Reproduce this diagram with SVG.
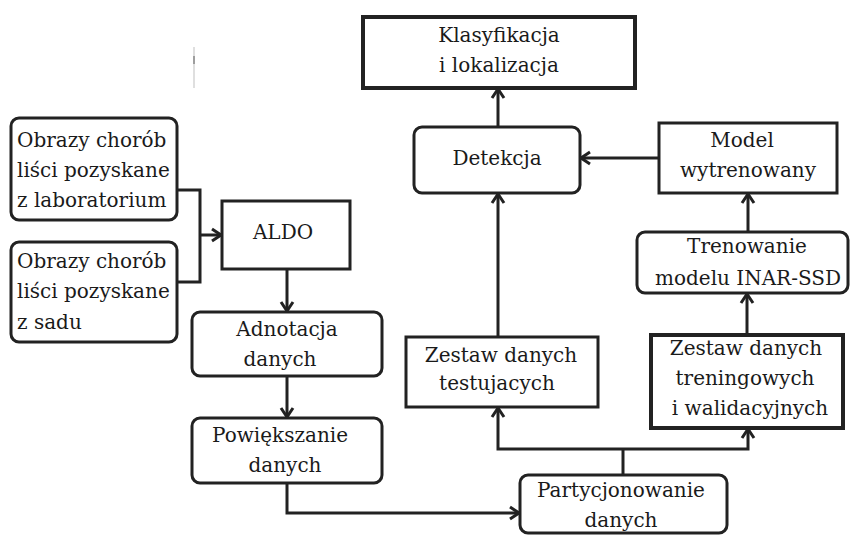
<svg xmlns="http://www.w3.org/2000/svg" width="852" height="536" viewBox="0 0 852 536">
  <defs>
    <marker id="arrow" markerUnits="userSpaceOnUse" markerWidth="14" markerHeight="16" viewBox="-12 -8 14 16" refX="0" refY="0" orient="auto">
      <path d="M-9,-6 L0,0 L-9,6" fill="none" stroke="#222" stroke-width="3" stroke-linejoin="miter"/>
    </marker>
  </defs>
  <style>
    .box { fill: #fff; stroke: #222; stroke-width: 3; }
    .thick { stroke-width: 4; }
    .lbl { font-family: "DejaVu Serif", "Liberation Serif", serif; font-size: 20px; fill: #1a1a1a; text-anchor: middle; }
    .left { text-anchor: start; }
    .conn { fill: none; stroke: #222; stroke-width: 3; }
    .arr { marker-end: url(#arrow); }
  </style>
  <rect width="852" height="536" fill="#fff"/>

  <!-- faint scan mark -->
  <line x1="194" y1="47" x2="194" y2="88" stroke="#d4d4d4" stroke-width="1.5"/>
  <line x1="194" y1="56" x2="194" y2="64" stroke="#888" stroke-width="1.5"/>

  <g id="connectors">
    <!-- sources merge into ALDO -->
    <polyline class="conn" points="177,190 200,190 200,282 177,282"/>
    <line class="conn arr" x1="200" y1="235" x2="221" y2="235"/>
    <!-- ALDO -> Adnotacja -> Powiekszanie -->
    <line class="conn arr" x1="287" y1="269" x2="287" y2="311"/>
    <line class="conn arr" x1="287" y1="376" x2="287" y2="417"/>
    <!-- Powiekszanie -> Partycjonowanie -->
    <polyline class="conn arr" points="287,483 287,513 519,513"/>
    <!-- Partycjonowanie split -->
    <line class="conn" x1="623" y1="475" x2="623" y2="449"/>
    <polyline class="conn arr" points="623,449 498,449 498,408"/>
    <polyline class="conn arr" points="623,449 748,449 748,429"/>
    <!-- test set -> Detekcja -->
    <line class="conn arr" x1="498" y1="337" x2="498" y2="194"/>
    <!-- Detekcja -> Klasyfikacja -->
    <line class="conn arr" x1="498" y1="127" x2="498" y2="89"/>
    <!-- training chain -->
    <line class="conn arr" x1="747" y1="335" x2="747" y2="294"/>
    <line class="conn arr" x1="748" y1="232" x2="748" y2="194"/>
    <line class="conn arr" x1="659" y1="158" x2="581" y2="158"/>
  </g>

  <g id="src-lab">
    <rect class="box" x="11" y="118" width="166" height="102" rx="8"/>
    <text class="lbl left" x="17" y="147">Obrazy chorób</text>
    <text class="lbl left" x="17" y="177">liści pozyskane</text>
    <text class="lbl left" x="17" y="207">z laboratorium</text>
  </g>

  <g id="src-sad">
    <rect class="box" x="11" y="242" width="166" height="100" rx="8"/>
    <text class="lbl left" x="17" y="268">Obrazy chorób</text>
    <text class="lbl left" x="17" y="298">liści pozyskane</text>
    <text class="lbl left" x="17" y="329">z sadu</text>
  </g>

  <g id="aldo">
    <rect class="box" x="222" y="201" width="128" height="68"/>
    <text class="lbl" x="283" y="239">ALDO</text>
  </g>

  <g id="adnotacja">
    <rect class="box" x="192" y="312" width="190" height="64" rx="8"/>
    <text class="lbl" x="287" y="336">Adnotacja</text>
    <text class="lbl" x="280" y="366">danych</text>
  </g>

  <g id="powiekszanie">
    <rect class="box" x="192" y="418" width="190" height="65" rx="8"/>
    <text class="lbl" x="280" y="442">Powiększanie</text>
    <text class="lbl" x="285" y="472">danych</text>
  </g>

  <g id="partycjonowanie">
    <rect class="box" x="520" y="475" width="207" height="58" rx="8"/>
    <text class="lbl" x="621" y="497">Partycjonowanie</text>
    <text class="lbl" x="621" y="527">danych</text>
  </g>

  <g id="zestaw-test">
    <rect class="box" x="406" y="337" width="192" height="70"/>
    <text class="lbl" x="501" y="362">Zestaw danych</text>
    <text class="lbl" x="497" y="390">testujacych</text>
  </g>

  <g id="zestaw-train">
    <rect class="box thick" x="651" y="335" width="192" height="93"/>
    <text class="lbl" x="746" y="355">Zestaw danych</text>
    <text class="lbl" x="745" y="385">treningowych</text>
    <text class="lbl" x="750" y="415">i walidacyjnych</text>
  </g>

  <g id="trenowanie">
    <rect class="box" x="637" y="232" width="211" height="61" rx="8"/>
    <text class="lbl" x="747" y="253">Trenowanie</text>
    <text class="lbl" x="748" y="285">modelu INAR-SSD</text>
  </g>

  <g id="model">
    <rect class="box" x="659" y="123" width="178" height="70"/>
    <text class="lbl" x="742" y="147">Model</text>
    <text class="lbl" x="748" y="177">wytrenowany</text>
  </g>

  <g id="detekcja">
    <rect class="box" x="414" y="127" width="166" height="66" rx="8"/>
    <text class="lbl" x="497" y="165">Detekcja</text>
  </g>

  <g id="klasyfikacja">
    <rect class="box thick" x="363" y="17" width="272" height="71"/>
    <text class="lbl" x="499" y="42">Klasyfikacja</text>
    <text class="lbl" x="499" y="72">i lokalizacja</text>
  </g>
</svg>
